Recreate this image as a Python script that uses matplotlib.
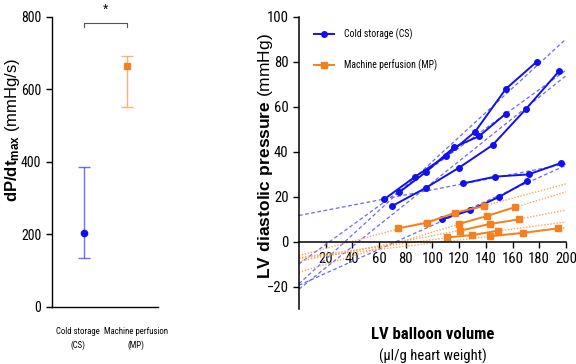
import matplotlib.pyplot as plt
import numpy as np
from matplotlib import font_manager

# narrow sans for ticks, legend and group names
installed = {f.name for f in font_manager.fontManager.ttflist}
NARROW = next((n for n in ['Roboto Condensed', 'PT Sans Narrow', 'Liberation Sans Narrow',
                           'Archivo Narrow', 'Barlow Semi Condensed']
               if n in installed), 'Liberation Sans')

plt.rcParams['font.family'] = ['Liberation Sans', 'DejaVu Sans']
plt.rcParams['mathtext.fontset'] = 'custom'
plt.rcParams['mathtext.bf'] = 'Liberation Sans:bold'
plt.rcParams['mathtext.rm'] = 'Liberation Sans'

BLUE = '#1010f0'
ORANGE = '#f7801e'

# dP/dt max per group: centre value and range
groups = ['Cold storage\n(CS)', 'Machine perfusion\n(MP)']
dpdt_mid = [205, 663]
dpdt_low = [135, 550]
dpdt_high = [387, 693]

# pressure-volume curves, cold storage hearts
cs_x = [
    [64, 87, 110, 132, 155, 178],
    [75, 95, 116, 135, 155],
    [70, 95, 120, 145, 170, 195],
    [123, 147, 172, 196],
    [107, 128, 150, 171],
]
cs_y = [
    [19, 29, 38, 49, 68, 80],
    [22, 31, 42, 47, 57],
    [16, 24, 33, 43, 59, 76],
    [26, 29, 30, 35],
    [10, 14, 20, 27],
]

# pressure-volume curves, machine perfusion hearts
mp_x = [
    [74, 96, 117, 139],
    [120, 141, 162],
    [121, 143, 165],
    [111, 130, 149],
    [143, 168, 194],
]
mp_y = [
    [6, 8.5, 13, 16],
    [8, 11.5, 15.5],
    [5, 8, 10],
    [2, 3, 5],
    [2.5, 4, 6],
]

fig = plt.figure(figsize=(5.76, 3.64), dpi=100)

# ---- left panel: dP/dt max
ax1 = fig.add_axes([0.090, 0.157, 0.184, 0.797])
pos = [0, 1]
cols = [BLUE, ORANGE]
marks = ['o', 's']
for i in range(2):
    ax1.errorbar(pos[i], dpdt_mid[i],
                 yerr=[[dpdt_mid[i] - dpdt_low[i]], [dpdt_high[i] - dpdt_mid[i]]],
                 fmt='none', ecolor=cols[i], alpha=0.6, elinewidth=1, capsize=4, capthick=1)
    ax1.plot(pos[i], dpdt_mid[i], marker=marks[i], color=cols[i], ms=4.5, ls='none')

ax1.set_xlim(-0.74, 1.72)
ax1.set_ylim(0, 800)
ax1.set_yticks([0, 200, 400, 600, 800])
ax1.set_xticks([])
ax1.tick_params(axis='y', length=4, width=1, labelsize=10, labelfontfamily=NARROW)
for s in ['top', 'right']:
    ax1.spines[s].set_visible(False)
for s in ['left', 'bottom']:
    ax1.spines[s].set_linewidth(1)
ax1.set_ylabel(r'$\mathbf{dP/dt_{max}}$ (mmHg/s)', fontsize=12)
ax1.yaxis.set_label_coords(-0.28, 0.61)

# group names sit a little right of their markers
for x, name in zip([-0.13, 1.22], groups):
    ax1.text(x, -0.07, name, transform=ax1.get_xaxis_transform(), ha='center', va='top',
             fontsize=6.3, family=NARROW, linespacing=1.6, clip_on=False)

# significance bracket
ax1.plot([0, 0, 1, 1], [772, 784, 784, 772], color='#555555', lw=0.8, clip_on=False)
ax1.text(0.5, 800, '*', ha='center', va='bottom', fontsize=10, clip_on=False)

# ---- right panel: pressure-volume relationship
ax2 = fig.add_axes([0.519, 0.150, 0.4635, 0.8036])
fit_x = np.array([0, 200])
for xs, ys in zip(cs_x, cs_y):
    k, b = np.polyfit(xs, ys, 1)
    ax2.plot(fit_x, k * fit_x + b, color='#6a6af5', lw=0.9, ls=(0, (3, 2)))
for xs, ys in zip(mp_x, mp_y):
    k, b = np.polyfit(xs, ys, 1)
    ax2.plot(fit_x, k * fit_x + b, color='#f5a860', lw=1.0, ls=(0, (1, 1.2)))

for n, (xs, ys) in enumerate(zip(cs_x, cs_y)):
    ax2.plot(xs, ys, '-o', color=BLUE, lw=1.4, ms=4,
             label='Cold storage (CS)' if n == 0 else None)
for n, (xs, ys) in enumerate(zip(mp_x, mp_y)):
    ax2.plot(xs, ys, '-s', color=ORANGE, lw=1.4, ms=4,
             label='Machine perfusion (MP)' if n == 0 else None)

ax2.set_xlim(0, 200)
ax2.set_ylim(-30, 100)
ax2.set_xticks(range(20, 201, 20))
ax2.set_yticks(range(-20, 101, 20))
ax2.spines['bottom'].set_position(('data', 0))
for s in ['top', 'right']:
    ax2.spines[s].set_visible(False)
for s in ['left', 'bottom']:
    ax2.spines[s].set_linewidth(1.1)
ax2.tick_params(length=4, width=1, labelsize=10.5, labelfontfamily=NARROW)

ax2.set_ylabel(r'$\mathbf{LV\ diastolic\ pressure}$ (mmHg)', fontsize=12.5)
ax2.yaxis.set_label_coords(-0.09, 0.525)
ax2.text(0.5, -0.085, 'LV balloon volume', transform=ax2.transAxes,
         ha='center', va='center', fontsize=12, fontweight='bold', family=NARROW)
ax2.text(0.5, -0.16, '(µl/g heart weight)', transform=ax2.transAxes,
         ha='center', va='center', fontsize=10.5, family=NARROW)

ax2.legend(loc='upper left', frameon=False, prop={'family': NARROW, 'size': 7},
           handlelength=2.1, handletextpad=1.0, labelspacing=2.0, borderaxespad=0.3,
           bbox_to_anchor=(0.03, 0.985))

fig.savefig('out.png', dpi=100)
